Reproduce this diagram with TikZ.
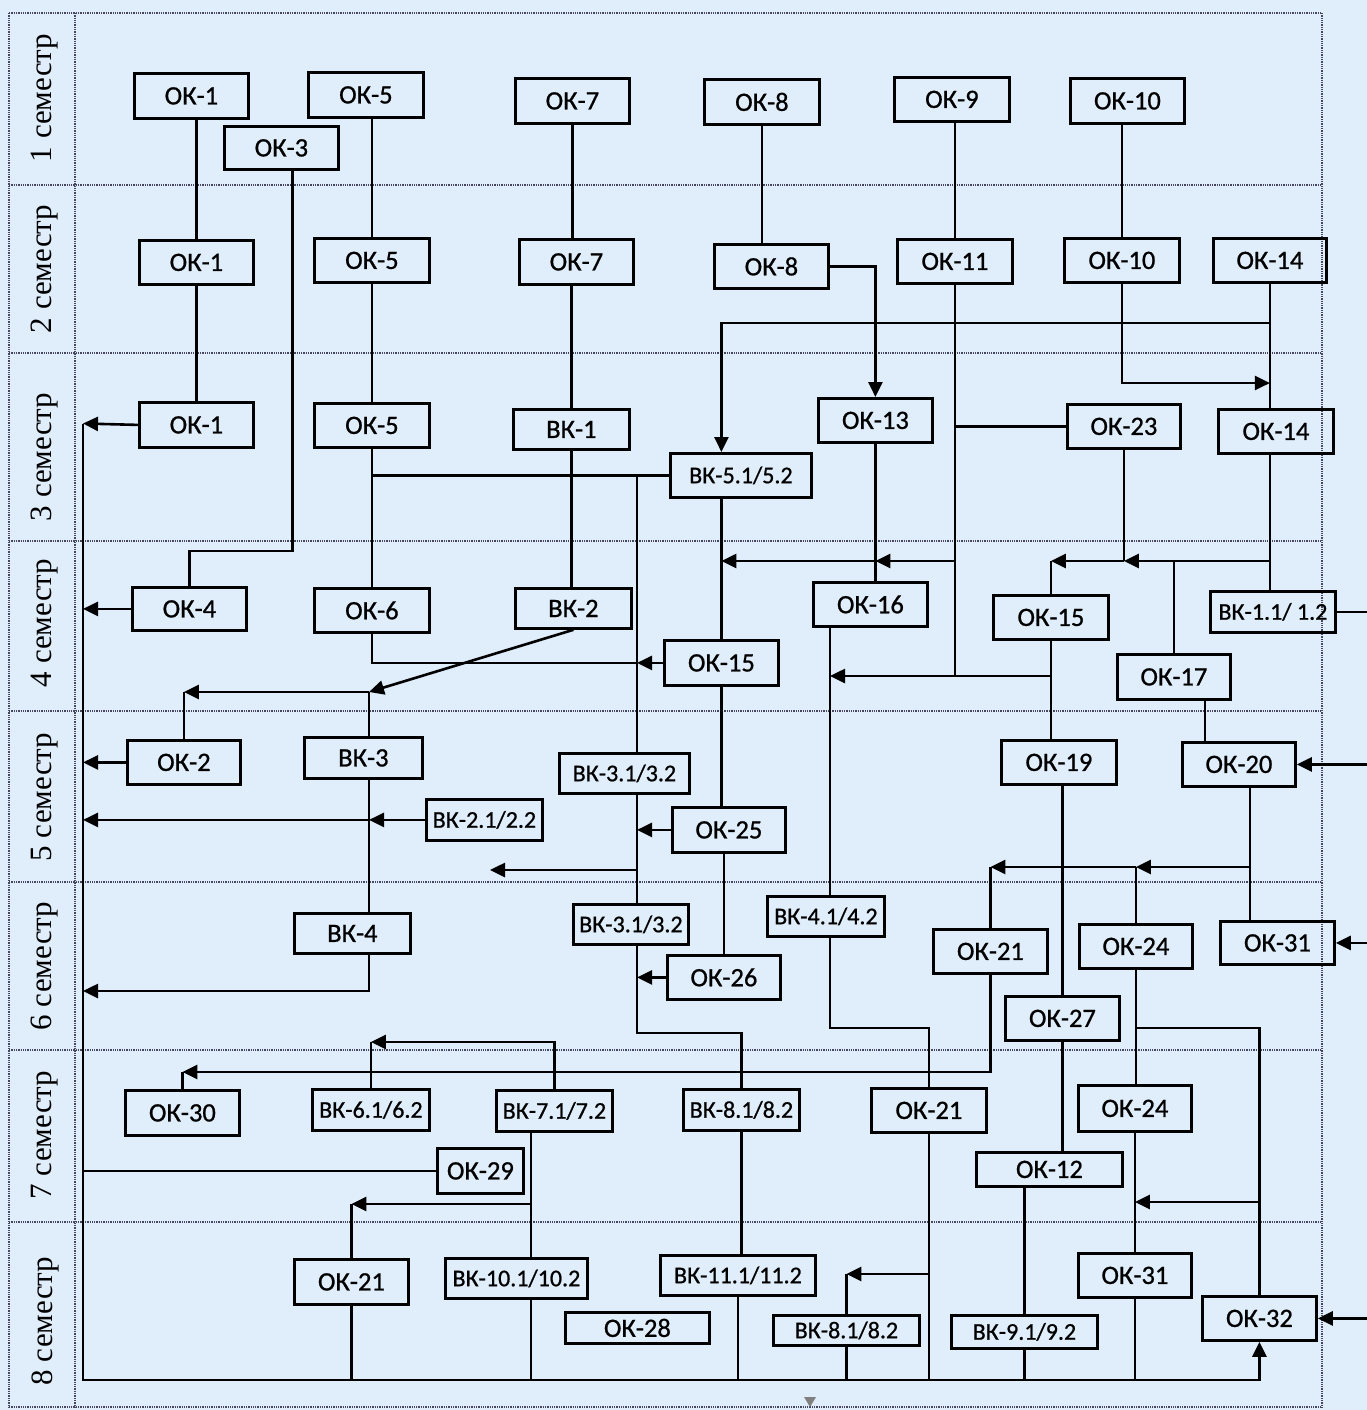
\documentclass[tikz,border=0pt]{standalone}
\usepackage{fontspec}
\setmainfont{Liberation Serif}
\newfontfamily\boxfont[FakeBold=0.8]{Carlito}
\usetikzlibrary{arrows.meta}
\definecolor{paper}{RGB}{224,237,250}
\definecolor{rulecol}{RGB}{70,70,95}
\newcommand{\okfont}{\boxfont\fontsize{26.5}{30}\selectfont}
\newcommand{\vkfont}{\boxfont\fontsize{24}{28}\selectfont}
\newcommand{\semfont}{\fontsize{31}{36}\selectfont}
\tikzset{
  okbox/.style={draw, line width=2.8pt, inner sep=2pt, anchor=north west, font=\okfont},
  vkbox/.style={okbox, font=\vkfont},
  wire/.style={line width=2.6pt},
  wirearr/.style={wire, -{Triangle[length=15pt,width=14pt]}},
  semline/.style={line width=1.4pt, draw=rulecol, dash pattern=on 1.3pt off 1pt},
}
\begin{document}
\begin{tikzpicture}[x=1pt,y=1pt,yscale=-1]
	\useasboundingbox (0,0) rectangle (1367,1410);
	\fill[paper] (0,0) rectangle (1367,1410);

	% semester grid
	\foreach \y in {13,185,353,541,711,882,1050,1222,1407}
		\draw[semline] (9,\y) -- (1322,\y);
	\foreach \x in {9,75,1322}
		\draw[semline] (\x,13) -- (\x,1407);

	% semester labels
	\foreach \n/\y in {1/98,2/269,3/457,4/623,5/797,6/966,7/1135,8/1321}
		\node[rotate=90, font=\semfont] (sem\n) at (45,\y) {\n\ семестр};

	% 1 semester
	\node[okbox, minimum width=114, minimum height=45] (ok1a) at (133,72) {ОК-1};
	\node[okbox, minimum width=115, minimum height=45] (ok5a) at (307,71) {ОК-5};
	\node[okbox, minimum width=114, minimum height=43] (ok3) at (223,125) {ОК-3};
	\node[okbox, minimum width=114, minimum height=45] (ok7a) at (514,77) {ОК-7};
	\node[okbox, minimum width=115, minimum height=45] (ok8a) at (703,78) {ОК-8};
	\node[okbox, minimum width=115, minimum height=44] (ok9) at (893,76) {ОК-9};
	\node[okbox, minimum width=114, minimum height=45] (ok10a) at (1069,77) {ОК-10};

	% 2 semester
	\node[okbox, minimum width=114, minimum height=44] (ok1b) at (138,239) {ОК-1};
	\node[okbox, minimum width=115, minimum height=44] (ok5b) at (313,237) {ОК-5};
	\node[okbox, minimum width=114, minimum height=45] (ok7b) at (518,238) {ОК-7};
	\node[okbox, minimum width=114, minimum height=44] (ok8b) at (713,243) {ОК-8};
	\node[okbox, minimum width=115, minimum height=44] (ok11) at (896,238) {ОК-11};
	\node[okbox, minimum width=115, minimum height=44] (ok10b) at (1063,237) {ОК-10};
	\node[okbox, minimum width=113, minimum height=44] (ok14a) at (1212,237) {ОК-14};

	% 3 semester
	\node[okbox, minimum width=114, minimum height=45] (ok1c) at (138,401) {ОК-1};
	\node[okbox, minimum width=115, minimum height=44] (ok5c) at (313,402) {ОК-5};
	\node[okbox, minimum width=116, minimum height=40] (bk1) at (512,408) {ВК-1};
	\node[vkbox, minimum width=141, minimum height=44] (bk51) at (669,452) {ВК-5.1/5.2};
	\node[okbox, minimum width=114, minimum height=44] (ok13) at (817,397) {ОК-13};
	\node[okbox, minimum width=113, minimum height=44] (ok23) at (1066,403) {ОК-23};
	\node[okbox, minimum width=115, minimum height=44] (ok14b) at (1217,408) {ОК-14};

	% 4 semester
	\node[okbox, minimum width=114, minimum height=43] (ok4) at (131,586) {ОК-4};
	\node[okbox, minimum width=115, minimum height=44] (ok6) at (313,587) {ОК-6};
	\node[okbox, minimum width=116, minimum height=40] (bk2) at (514,587) {ВК-2};
	\node[okbox, minimum width=114, minimum height=45] (ok15a) at (663,639) {ОК-15};
	\node[okbox, minimum width=114, minimum height=44] (ok16) at (812,581) {ОК-16};
	\node[okbox, minimum width=115, minimum height=44] (ok15b) at (992,594) {ОК-15};
	\node[vkbox, minimum width=125, minimum height=41] (bk11) at (1209,590) {ВК-1.1/ 1.2};
	\node[okbox, minimum width=113, minimum height=45] (ok17) at (1116,653) {ОК-17};

	% 5 semester
	\node[okbox, minimum width=113, minimum height=44] (ok2) at (126,739) {ОК-2};
	\node[okbox, minimum width=118, minimum height=41] (bk3) at (303,736) {ВК-3};
	\node[vkbox, minimum width=116, minimum height=41] (bk21) at (425,798) {ВК-2.1/2.2};
	\node[vkbox, minimum width=130, minimum height=40] (bk31a) at (558,752) {ВК-3.1/3.2};
	\node[okbox, minimum width=113, minimum height=45] (ok25) at (671,806) {ОК-25};
	\node[okbox, minimum width=115, minimum height=44] (ok19) at (1000,739) {ОК-19};
	\node[okbox, minimum width=113, minimum height=44] (ok20) at (1181,741) {ОК-20};

	% 6 semester
	\node[okbox, minimum width=116, minimum height=40] (bk4) at (293,912) {ВК-4};
	\node[vkbox, minimum width=115, minimum height=40] (bk31b) at (572,903) {ВК-3.1/3.2};
	\node[okbox, minimum width=113, minimum height=44] (ok26) at (666,954) {ОК-26};
	\node[vkbox, minimum width=117, minimum height=40] (bk41) at (766,895) {ВК-4.1/4.2};
	\node[okbox, minimum width=114, minimum height=44] (ok21a) at (932,928) {ОК-21};
	\node[okbox, minimum width=113, minimum height=44] (ok24a) at (1078,923) {ОК-24};
	\node[okbox, minimum width=114, minimum height=43] (ok31a) at (1219,920) {ОК-31};
	\node[okbox, minimum width=114, minimum height=44] (ok27) at (1004,995) {ОК-27};

	% 7 semester
	\node[okbox, minimum width=114, minimum height=45] (ok30) at (124,1089) {ОК-30};
	\node[vkbox, minimum width=117, minimum height=41] (bk61) at (311,1088) {ВК-6.1/6.2};
	\node[vkbox, minimum width=116, minimum height=41] (bk71) at (495,1089) {ВК-7.1/7.2};
	\node[vkbox, minimum width=116, minimum height=41] (bk81a) at (682,1088) {ВК-8.1/8.2};
	\node[okbox, minimum width=115, minimum height=44] (ok21b) at (870,1087) {ОК-21};
	\node[okbox, minimum width=113, minimum height=46] (ok24b) at (1077,1084) {ОК-24};
	\node[okbox, minimum width=86, minimum height=45] (ok29) at (436,1147) {ОК-29};
	\node[okbox, minimum width=146, minimum height=34] (ok12) at (975,1151) {ОК-12};

	% 8 semester
	\node[okbox, minimum width=114, minimum height=45] (ok21c) at (293,1258) {ОК-21};
	\node[vkbox, minimum width=142, minimum height=40] (bk101) at (444,1257) {ВК-10.1/10.2};
	\node[vkbox, minimum width=155, minimum height=40] (bk111) at (659,1254) {ВК-11.1/11.2};
	\node[okbox, minimum width=144, minimum height=31] (ok28) at (564,1311) {ОК-28};
	\node[vkbox, minimum width=146, minimum height=30] (bk81b) at (772,1314) {ВК-8.1/8.2};
	\node[vkbox, minimum width=146, minimum height=33] (bk91) at (950,1314) {ВК-9.1/9.2};
	\node[okbox, minimum width=113, minimum height=44] (ok31b) at (1077,1252) {ОК-31};
	\node[okbox, minimum width=114, minimum height=44] (ok32) at (1201,1295) {ОК-32};

	% junctions
	\coordinate (busTop) at (83,423.5);
	\coordinate (busBot) at (83,1380);
	\coordinate (j3) at (369,692);
	\coordinate (vkline) at (637,474);
	\coordinate (c16) at (830,676);
	\coordinate (c17) at (1205,698);
	\coordinate (c20) at (1250,785);
	\coordinate (c71) at (531,1204);
	\coordinate (rim) at (1367,0);
	\coordinate (stub) at (490,870);

	% links 1--3 semester
	\draw[wire] (ok1b.north |- ok1a.south) -- (ok1b.north);
	\draw[wire] (ok1b.south) -- (ok1c.north);
	\draw[wire] (ok5b.north |- ok5a.south) -- (ok5b.north);
	\draw[wire] (ok5b.south) -- (ok5c.north);
	\draw[wire] ([xshift=11]ok3.south) |- (ok4.north |- 0,551) -- (ok4.north);
	\draw[wire] (ok7a.south) -- (ok7a.south |- ok7b.north);
	\draw[wire] (bk1.north |- ok7b.south) -- (bk1.north);
	\draw[wire] (bk1.south) -- (bk1.south |- bk2.north);
	\draw[wire] (ok8a.south) -- (ok8a.south |- ok8b.north);
	\draw[wirearr] (ok8b.east) -| (ok13.north);
	\draw[wire] (ok11.north |- ok9.south) -- (ok11.north);
	\draw[wire] (ok10b.north |- ok10a.south) -- (ok10b.north);
	\draw[wire] (ok14a.south) -- (ok14a.south |- ok14b.north);
	\draw[wirearr] (ok14a.south |- 0,323) -| (ok15a.north |- bk51.north);
	\draw[wirearr] (ok10b.south) |- (ok14a.south |- 0,383);
	\draw[wire] (ok11.south |- ok23.west) -- (ok23.west);
	\draw[wire] (ok11.south) -- (ok11.south |- c16);
	\draw[wirearr] (ok1c.west) -- (busTop);
	\draw[wire] (ok5c.south) -- (ok6.north);
	\draw[wire] (ok5c.south |- bk51.west) -- (bk51.west);

	% links 4 semester
	\draw[wire] (ok14a.south |- ok14b.south) -- (ok14a.south |- bk11.north);
	\draw[wire] (ok23.south) -- (ok23.south |- 0,561);
	\draw[wire] (ok15b.north |- 0,561) -- (ok15b.north);
	\draw[wire] (ok17.north |- 0,561) -- (ok17.north);
	\draw[wirearr] (ok14a.south |- 0,561) -- (ok23.south |- 0,561);
	\draw[wirearr] (ok23.south |- 0,561) -- (ok15b.north |- 0,561);
	\draw[wire] (bk11.east) -- (bk11.east -| rim);
	\draw[wirearr] (ok11.south |- 0,561) -- (ok13.south |- 0,561);
	\draw[wirearr] (ok13.south |- 0,561) -- (ok15a.north |- 0,561);
	\draw[wire] (ok13.south) -- (ok13.south |- ok16.north);
	\draw[wire] (ok15a.north |- bk51.south) -- (ok15a.north);
	\draw[wire] (ok6.south) |- (ok15a.west -| vkline);
	\draw[wirearr] (ok15a.west) -- (ok15a.west -| vkline);
	\draw[wirearr] (bk2.south) -- (j3);
	\draw[wire] (j3 -| ok2.north) -- (ok2.north);
	\draw[wirearr] (j3) -- (j3 -| ok2.north);
	\draw[wire] (j3) -- (j3 |- bk3.north);
	\draw[wirearr] (ok4.west) -- (ok4.west -| busTop);
	\draw[wirearr] (c16 -| ok15b.south) -- (c16);
	\draw[wire] (ok15b.south) -- (ok15b.south |- ok19.north);
	\draw[wire] (c16 |- ok16.south) -- (c16 |- bk41.north);
	\draw[wire] (c17) -- (c17 |- ok20.north);

	% links 5 semester
	\draw[wirearr] (ok2.west) -- (ok2.west -| busTop);
	\draw[wirearr] (bk21.west) -- (bk21.west -| j3);
	\draw[wirearr] (bk21.west -| j3) -- (bk21.west -| busTop);
	\draw[wire] (j3 |- bk3.south) -- (j3 |- bk4.north);
	\draw[wire] (vkline) -- (vkline |- bk31a.north);
	\draw[wire] (vkline |- bk31a.south) -- (vkline |- bk31b.north);
	\draw[wirearr] (vkline |- stub) -- (stub);
	\draw[wirearr] (ok25.west) -- (ok25.west -| vkline);
	\draw[wire] (ok15a.south) -- (ok15a.south |- ok25.north);
	\draw[wire] (ok27.north |- ok19.south) -- (ok27.north);
	\draw[wirearr] (ok20.east -| rim) -- (ok20.east);
	\draw[wire] (c20) -- (c20 |- ok31a.north);
	\draw[wire] (ok24a.north |- 0,867) -- (ok24a.north);
	\draw[wire] (ok21a.north |- 0,867) -- (ok21a.north);
	\draw[wirearr] (c20 |- 0,867) -- (ok24a.north |- 0,867);
	\draw[wirearr] (ok24a.north |- 0,867) -- (ok21a.north |- 0,867);

	% links 6 semester
	\draw[wirearr] (j3 |- bk4.south) |- (busTop |- 0,991);
	\draw[wire] (ok26.north |- ok25.south) -- (ok26.north);
	\draw[wirearr] (ok26.west) -- (ok26.west -| vkline);
	\draw[wire] (vkline |- bk31b.south) |- (bk81a.north |- 0,1033) -- (bk81a.north);
	\draw[wire] (c16 |- bk41.south) |- (ok21b.north |- 0,1028) -- (ok21b.north);
	\draw[wirearr] (ok31a.east -| rim) -- (ok31a.east);
	\draw[wire] (ok24a.south) -- (ok24a.south |- ok24b.north);
	\draw[wire] (ok24a.south |- 0,1028) -| (ok32.north);
	\draw[wire] (ok30.north |- 0,1072) -- (ok30.north);
	\draw[wirearr] (ok21a.south) |- (ok30.north |- 0,1072);

	% links 7 semester
	\draw[wire] (bk61.north |- 0,1042) -- (bk61.north);
	\draw[wirearr] (bk71.north) |- (bk61.north |- 0,1042);
	\draw[wirearr] (ok32.north |- 0,1202) -- (ok24b.south |- 0,1202);
	\draw[wire] (ok27.south) -- (ok27.south |- ok12.north);
	\draw[wire] (bk91.north |- ok12.south) -- (bk91.north);
	\draw[wire] (busTop |- ok29.west) -- (ok29.west);
	\draw[wire] (c71 |- bk71.south) -- (c71 |- bk101.north);
	\draw[wire] (c71 -| ok21c.north) -- (ok21c.north);
	\draw[wirearr] (c71) -- (c71 -| ok21c.north);
	\draw[wire] (bk81a.south) -- (bk81a.south |- bk111.north);
	\draw[wire] (ok24b.south) -- (ok31b.north);

	% links 8 semester
	\draw[wire] (ok21b.south) -- (ok21b.south |- busBot);
	\draw[wire] (bk81b.north |- 0,1274) -- (bk81b.north);
	\draw[wirearr] (ok21b.south |- 0,1274) -- (bk81b.north |- 0,1274);
	\draw[wire] (ok21c.south) -- (ok21c.south |- busBot);
	\draw[wire] (c71 |- bk101.south) -- (c71 |- busBot);
	\draw[wire] (bk111.south) -- (bk111.south |- busBot);
	\draw[wire] (bk81b.south) -- (bk81b.south |- busBot);
	\draw[wire] (bk91.south) -- (bk91.south |- busBot);
	\draw[wire] (ok31b.south) -- (ok31b.south |- busBot);
	\draw[wirearr] (busTop) -- (busBot) -| (ok32.south);
	\draw[wirearr] (ok32.east -| rim) -- (ok32.east);
	\fill[gray] (804,1397) -- (816,1397) -- (810,1407) -- cycle;
\end{tikzpicture}
\end{document}
